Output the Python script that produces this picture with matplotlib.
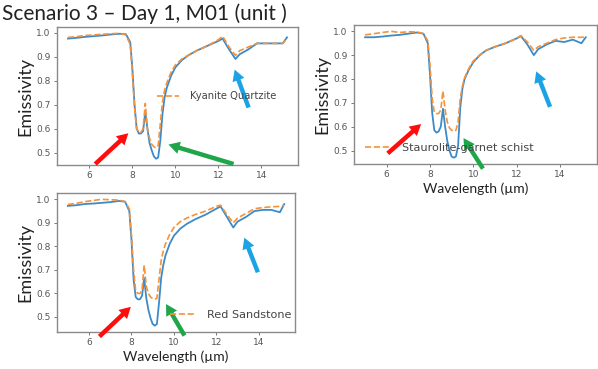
import numpy as np
import matplotlib
matplotlib.use('Agg')
from matplotlib import pyplot as plt

# общая сетка длин волн, мкм
wl = [5.0, 5.4, 5.8, 6.2, 6.6, 7.0, 7.4, 7.7, 7.9, 8.0, 8.1, 8.2, 8.3, 8.4, 8.5,
      8.6, 8.7, 8.8, 8.9, 9.0, 9.1, 9.2, 9.3, 9.4, 9.5, 9.6, 9.8, 10.0, 10.3,
      10.6, 11.0, 11.5, 12.0, 12.2, 12.5, 12.8, 13.0, 13.4, 13.8, 14.2, 14.6,
      15.0, 15.2]

# Kyanite Quartzite
kq_meas = [0.975, 0.978, 0.982, 0.985, 0.988, 0.992, 0.995, 0.993, 0.96, 0.85,
           0.70, 0.60, 0.58, 0.58, 0.59, 0.67, 0.60, 0.54, 0.51, 0.485, 0.475,
           0.48, 0.55, 0.66, 0.73, 0.77, 0.82, 0.855, 0.885, 0.905, 0.925,
           0.945, 0.965, 0.975, 0.93, 0.89, 0.91, 0.93, 0.955, 0.955, 0.955,
           0.955, 0.98]
kq_lib = [0.98, 0.983, 0.988, 0.99, 0.993, 0.995, 0.997, 0.99, 0.95, 0.83,
          0.69, 0.60, 0.585, 0.585, 0.60, 0.705, 0.60, 0.56, 0.535, 0.525,
          0.52, 0.53, 0.62, 0.71, 0.76, 0.79, 0.835, 0.865, 0.89, 0.905,
          0.925, 0.945, 0.97, 0.985, 0.94, 0.905, 0.925, 0.94, 0.955, 0.955,
          0.955, 0.955, 0.975]

# Staurolite-garnet schist
sg_meas = [0.975, 0.975, 0.978, 0.982, 0.985, 0.99, 0.995, 0.99, 0.95, 0.82,
           0.66, 0.585, 0.575, 0.58, 0.60, 0.675, 0.60, 0.54, 0.50, 0.475,
           0.47, 0.475, 0.52, 0.68, 0.76, 0.80, 0.84, 0.87, 0.90, 0.92, 0.935,
           0.95, 0.97, 0.98, 0.945, 0.90, 0.925, 0.945, 0.96, 0.955, 0.965,
           0.95, 0.975]
sg_lib = [0.985, 0.99, 0.995, 1.0, 0.995, 0.998, 0.997, 0.99, 0.96, 0.86,
          0.72, 0.66, 0.655, 0.655, 0.67, 0.75, 0.67, 0.62, 0.595, 0.585,
          0.58, 0.585, 0.62, 0.72, 0.77, 0.805, 0.845, 0.875, 0.90, 0.92,
          0.935, 0.95, 0.97, 0.982, 0.955, 0.92, 0.935, 0.95, 0.965, 0.972,
          0.975, 0.975, 0.975]

# Red Sandstone
rs_meas = [0.972, 0.975, 0.98, 0.982, 0.985, 0.988, 0.993, 0.99, 0.95, 0.83,
           0.66, 0.585, 0.575, 0.575, 0.59, 0.665, 0.58, 0.53, 0.495, 0.47,
           0.463, 0.47, 0.56, 0.665, 0.72, 0.76, 0.81, 0.845, 0.875, 0.895,
           0.915, 0.935, 0.96, 0.97, 0.925, 0.88, 0.905, 0.925, 0.95, 0.955,
           0.955, 0.945, 0.98]
rs_lib = [0.978, 0.983, 0.99, 0.995, 1.0, 0.998, 0.997, 0.99, 0.96, 0.85,
          0.70, 0.61, 0.60, 0.60, 0.615, 0.72, 0.63, 0.60, 0.585, 0.578,
          0.575, 0.58, 0.66, 0.74, 0.78, 0.81, 0.85, 0.88, 0.905, 0.92,
          0.935, 0.95, 0.97, 0.975, 0.935, 0.90, 0.92, 0.94, 0.96, 0.965,
          0.968, 0.97, 0.975]

names = ['Kyanite Quartzite', 'Staurolite-garnet schist', 'Red Sandstone']

# стрелки (хвост, голова) в координатах данных
arrows = [
    [((6.27, 0.453), (7.81, 0.581)), ((12.71, 0.453), (9.68, 0.534)), ((13.41, 0.688), (12.76, 0.846))],
    [((6.05, 0.488), (7.59, 0.611)), ((10.45, 0.424), (9.55, 0.552)), ((13.55, 0.683), (12.91, 0.832))],
    [((6.49, 0.417), (7.97, 0.543)), ((10.5, 0.421), (9.63, 0.555)), ((13.96, 0.690), (13.32, 0.837))],
]
arrow_colors = ['#ff0d0d', '#1fa64a', '#1ca3e6']

fig = plt.figure(figsize=(5.98, 3.69), dpi=100)

fig.text(0.004, 0.963, 'Scenario 3 – Day 1, M01 (unit )', fontsize=15,
         family='Lato', color='#222222', va='center', ha='left')

boxes = [[0.0953, 0.5528, 0.403, 0.374],
         [0.592, 0.5556, 0.406, 0.3767],
         [0.0953, 0.1003, 0.398, 0.3767]]
leg_pos = [(0.415, 0.5), (0.045, 0.115), (0.475, 0.122)]
leg_size = [7.2, 8.1, 8.1]


def panel(box, meas, lib, name, arr, lpos, lsize, xlabel):
    ax = fig.add_axes(box)
    ax.plot(wl, meas, color='#3d8ac8', lw=1.3)
    ax.plot(wl, lib, color='#f5923a', lw=1.2, ls='--', label=name)
    ax.set_xticks([6, 8, 10, 12, 14])
    ax.set_yticks([0.5, 0.6, 0.7, 0.8, 0.9, 1.0])
    ax.yaxis.set_major_formatter(matplotlib.ticker.FormatStrFormatter('%.1f'))
    ax.tick_params(labelsize=6.5, labelcolor='#555555', color='#777777',
                   length=2.5, width=0.7, pad=2)
    for s in ax.spines.values():
        s.set_color('#8a8a8a')
        s.set_linewidth(1.0)
    ax.set_ylabel('Emissivity', fontsize=13, family='Lato', color='#222222',
                  labelpad=2)
    if xlabel:
        ax.set_xlabel('Wavelength (µm)', fontsize=10, family='Lato',
                      color='#222222', labelpad=2)
    ax.legend(loc='center left', bbox_to_anchor=lpos, frameon=False,
              fontsize=lsize, borderpad=0, borderaxespad=0, handlelength=2.2,
              handletextpad=1.1, labelcolor='#444444')
    for (tail, head), c in zip(arr, arrow_colors):
        ax.annotate('', xy=head, xytext=tail, annotation_clip=False,
                    arrowprops=dict(facecolor=c, edgecolor='none', width=3.2,
                                    headwidth=9, headlength=8, shrink=0))
    return ax


panel(boxes[0], kq_meas, kq_lib, names[0], arrows[0], leg_pos[0], leg_size[0], False)
panel(boxes[1], sg_meas, sg_lib, names[1], arrows[1], leg_pos[1], leg_size[1], True)
panel(boxes[2], rs_meas, rs_lib, names[2], arrows[2], leg_pos[2], leg_size[2], True)

plt.savefig('out.png', dpi=100)
